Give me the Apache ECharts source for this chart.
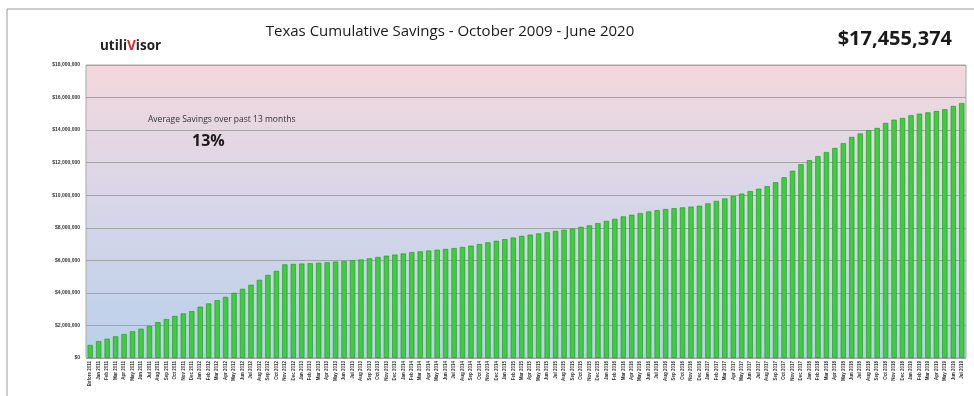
<!DOCTYPE html>
<html>
<head>
<meta charset="utf-8">
<script src="https://cdn.jsdelivr.net/npm/echarts@6/dist/echarts.min.js"></script>
<style>
html,body{margin:0;padding:0;background:#fff;}
#chart{width:974px;height:396px;}
</style>
</head>
<body>
<div id="chart"></div>
<script>
// Category labels (monthly)
const monthNames = ['Jan','Feb','Mar','Apr','May','Jun','Jul','Aug','Sep','Oct','Nov','Dec'];
const categories = ['Before 2011'];
for (let y = 2011; y <= 2019; y++) {
  for (let m = 0; m < 12; m++) {
    if (categories.length < 104) categories.push(monthNames[m] + ' ' + y);
  }
}
// Cumulative savings, millions of dollars
const savingsMillions = [
  0.80, 1.04, 1.18, 1.33, 1.47, 1.64, 1.80, 1.96, 2.20, 2.39,
  2.58, 2.74, 2.88, 3.15, 3.35, 3.55, 3.75, 4.00, 4.25, 4.50,
  4.80, 5.10, 5.35, 5.75, 5.78, 5.80, 5.82, 5.85, 5.88, 5.92,
  5.96, 6.00, 6.05, 6.12, 6.20, 6.28, 6.35, 6.42, 6.50, 6.55,
  6.60, 6.65, 6.70, 6.75, 6.82, 6.90, 7.00, 7.10, 7.20, 7.30,
  7.40, 7.50, 7.58, 7.65, 7.72, 7.80, 7.88, 7.95, 8.05, 8.15,
  8.28, 8.42, 8.55, 8.70, 8.80, 8.90, 9.00, 9.08, 9.15, 9.20,
  9.25, 9.30, 9.35, 9.50, 9.65, 9.80, 9.95, 10.10, 10.25, 10.40,
  10.55, 10.80, 11.10, 11.50, 11.90, 12.15, 12.40, 12.65, 12.90, 13.20,
  13.58, 13.79, 13.99, 14.13, 14.44, 14.64, 14.74, 14.91, 15.01, 15.09,
  15.17, 15.28, 15.48, 15.66
];
const yTicks = [0, 2000000, 4000000, 6000000, 8000000, 10000000, 12000000, 14000000, 16000000, 18000000];
const titleText = 'Texas Cumulative Savings - October 2009 - June 2020';
const totalText = '$17,455,374';
const noteText = 'Average Savings over past 13 months';
const noteValue = '13%';

const values = savingsMillions.map(v => Math.round(v * 1000000));

const chart = echarts.init(document.getElementById('chart'), null, {renderer: 'canvas'});
chart.setOption({
  backgroundColor: '#ffffff',
  animation: false,
  title: [
    {text: titleText, left: 450, top: 24, textAlign: 'center', padding: 0,
     textStyle: {fontFamily: 'Open Sans', fontSize: 15, fontWeight: 'normal', color: '#1a1a1a'}},
    {text: totalText, right: 22, top: 29, padding: 0,
     textStyle: {fontFamily: 'Open Sans', fontSize: 20, fontWeight: 'bold', color: '#1a1a1a'}},
    {text: '{a|utili}{b|V}{a|isor}', left: 100, top: 39, padding: 0,
     textStyle: {rich: {
       a: {fontFamily: 'Open Sans', fontSize: 13.5, fontWeight: 'bold', color: '#222'},
       b: {fontFamily: 'Open Sans', fontSize: 13.5, fontWeight: 'bold', color: '#d9262b'}
     }}},
    {text: noteText, left: 148, top: 115, padding: 0,
     textStyle: {fontFamily: 'Open Sans', fontSize: 8.5, fontWeight: 'normal', color: '#333'}},
    {text: noteValue, left: 192, top: 133, padding: 0,
     textStyle: {fontFamily: 'Open Sans', fontSize: 16, fontWeight: 'bold', color: '#1a1a1a'}}
  ],
  graphic: [
    {type: 'line', shape: {x1: 7, y1: 9, x2: 974, y2: 9}, style: {stroke: '#9a9a9a', lineWidth: 1}},
    {type: 'line', shape: {x1: 7, y1: 9, x2: 7, y2: 396}, style: {stroke: '#9a9a9a', lineWidth: 1}}
  ],
  grid: {
    left: 86, right: 8, top: 65, bottom: 38,
    show: true,
    borderColor: '#a8a8a8', borderWidth: 1,
    backgroundColor: new echarts.graphic.LinearGradient(0, 0, 0, 1, [
      {offset: 0, color: '#f3d8dc'},
      {offset: 0.45, color: '#d9d6e8'},
      {offset: 1, color: '#b9d0ea'}
    ])
  },
  xAxis: {
    type: 'category',
    data: categories,
    axisTick: {show: false},
    axisLine: {show: false},
    axisLabel: {interval: 0, rotate: 90, fontSize: 4.5, fontWeight: 'bold', color: '#333', margin: 3, fontFamily: 'Liberation Sans'}
  },
  yAxis: {
    type: 'value',
    min: 0, max: 18000000, interval: 2000000,
    axisLine: {show: false},
    axisTick: {show: false},
    splitLine: {lineStyle: {color: '#a3a3a8', width: 1}},
    axisLabel: {
      fontSize: 5, fontWeight: 'bold', color: '#333', margin: 6, fontFamily: 'Liberation Sans',
      formatter: v => '$' + v.toLocaleString('en-US')
    }
  },
  series: [{
    type: 'bar',
    data: values,
    barCategoryGap: '38%',
    itemStyle: {color: '#3ccf3c', borderColor: '#2b8a2b', borderWidth: 0.6}
  }]
});
</script>
</body>
</html>
